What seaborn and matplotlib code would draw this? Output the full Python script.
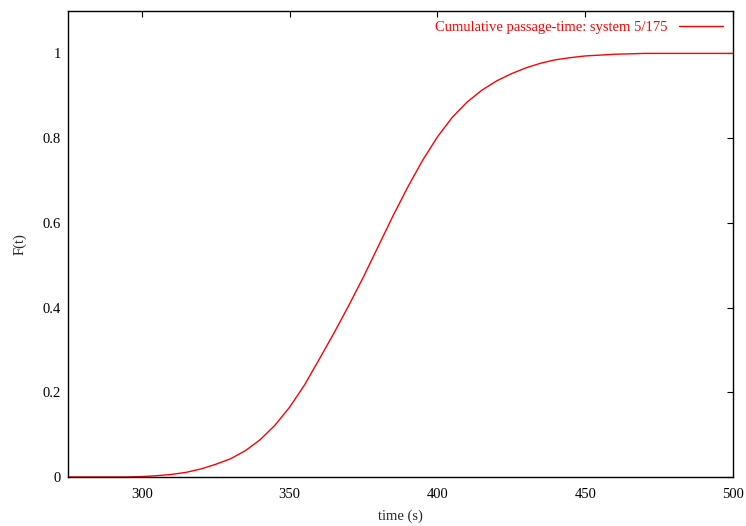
"""cumulative passage-time distribution, system 5/175"""

import pandas as pd
import matplotlib.pyplot as plt
import seaborn as sns

time_s = [275, 280, 285, 290, 295, 300, 305, 310, 315, 320, 325, 330, 335, 340,
          345, 350, 355, 360, 365, 370, 375, 380, 385, 390, 395, 400, 405, 410,
          415, 420, 425, 430, 435, 440, 445, 450, 455, 460, 465, 470, 475, 480,
          485, 490, 495, 500]
cdf = [0.0, 0.0, 0.0, 0.0, 0.0, 0.001, 0.003, 0.006, 0.011, 0.019, 0.03, 0.043,
       0.062, 0.088, 0.122, 0.165, 0.217, 0.278, 0.34, 0.405, 0.473, 0.545,
       0.617, 0.685, 0.748, 0.803, 0.849, 0.885, 0.913, 0.935, 0.952, 0.966,
       0.977, 0.985, 0.99, 0.994, 0.996, 0.998, 0.999, 1.0, 1.0, 1.0, 1.0,
       1.0, 1.0, 1.0]
label = "Cumulative passage-time: system 5/175"

df = pd.DataFrame({"time": time_s, "F": cdf})

sns.set_theme(style="white")
plt.rcParams["font.family"] = ["Liberation Serif", "DejaVu Serif"]

fig = plt.figure(figsize=(7.46, 5.26), dpi=100)
ax = fig.add_axes([0.0912, 0.0932, 0.8914, 0.8858])

sns.lineplot(data=df, x="time", y="F", color="red", linewidth=1.0, label=label, ax=ax)

ax.set_xlim(275, 500)
ax.set_ylim(0, 1.1)
ax.set_xticks([300, 350, 400, 450, 500])
ax.set_yticks([0, 0.2, 0.4, 0.6, 0.8, 1])
ax.set_yticklabels(["0", "0.2", "0.4", "0.6", "0.8", "1"])
ax.set_xlabel("time (s)", fontsize=10.5, labelpad=6)
ax.set_ylabel("F(t)", fontsize=10.5, labelpad=12)
ax.tick_params(direction="in", length=4.5, width=0.8, labelsize=10.5,
               top=True, right=True, colors="black")
ax.tick_params(axis="x", pad=8)
ax.tick_params(axis="y", pad=5)
for s in ax.spines.values():
    s.set_color("black")
    s.set_linewidth(1.0)

ax.legend(loc="upper right", frameon=False, markerfirst=False, labelcolor="red",
          fontsize=10.5, handlelength=3.0, borderaxespad=0.3)

plt.savefig("out.png")
plt.close()
